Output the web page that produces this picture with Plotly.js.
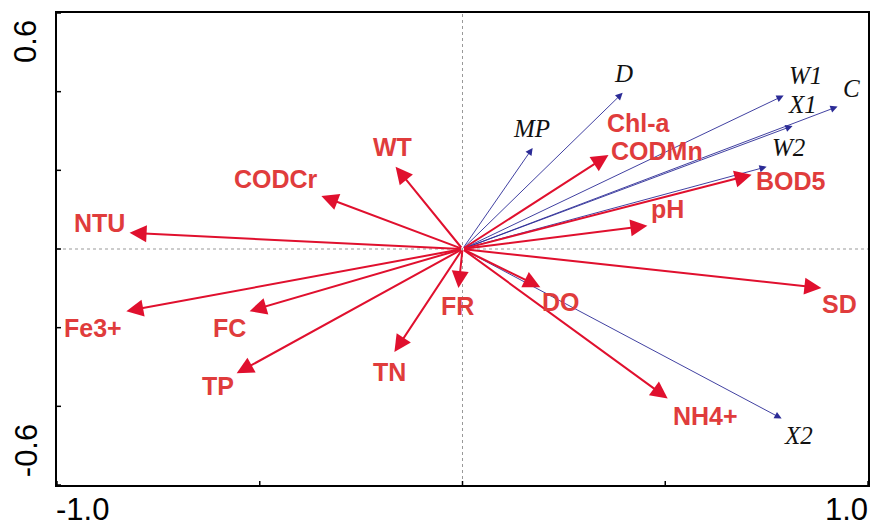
<!DOCTYPE html>
<html>
<head>
<meta charset="utf-8">
<script src="https://cdn.plot.ly/plotly-3.0.1.min.js"></script>
<style>html,body{margin:0;padding:0;background:#fff}#chart{width:872px;height:528px}</style>
</head>
<body>
<div id="chart"></div>
<script>
// Environmental variables (red arrows)
var envNames = ["NTU","Fe3+","FC","TP","CODCr","WT","TN","FR","DO","NH4+","SD","pH","BOD5","Chl-a / CODMn"];
var envX = [-0.821,-0.829,-0.525,-0.557,-0.348,-0.165,-0.168,-0.010,0.192,0.506,0.885,0.456,0.713,0.360];
var envY = [0.041,-0.158,-0.158,-0.316,0.135,0.209,-0.262,-0.099,-0.097,-0.380,-0.099,0.059,0.189,0.239];

// Species / response variables (blue arrows)
var spNames = ["D","MP","W1","C","X1","W2","X2"];
var spX = [0.395,0.173,0.792,0.925,0.814,0.750,0.787];
var spY = [0.397,0.257,0.390,0.362,0.313,0.209,-0.431];

// Axis tick labels
var xTickVals = [-1.0,-0.5,0,0.5,1.0];
var yTickVals = [-0.6,-0.4,-0.2,0,0.2,0.4,0.6];
var xTickText = ["-1.0","1.0"];
var yTickText = ["0.6","-0.6"];

// Label placement (layout only)
var envLabelPos = [
  {t:"NTU",x:-0.895,y:0.065},{t:"Fe3+",x:-0.912,y:-0.200},{t:"FC",x:-0.575,y:-0.200},
  {t:"TP",x:-0.604,y:-0.348},{t:"CODCr",x:-0.461,y:0.177},{t:"WT",x:-0.173,y:0.259},
  {t:"TN",x:-0.180,y:-0.312},{t:"FR",x:-0.012,y:-0.146},{t:"DO",x:0.242,y:-0.136},
  {t:"NH4+",x:0.599,y:-0.424},{t:"SD",x:0.930,y:-0.141},{t:"pH",x:0.506,y:0.101},
  {t:"BOD5",x:0.811,y:0.172},{t:"Chl-a",x:0.436,y:0.320},{t:"CODMn",x:0.480,y:0.248}
];
var spLabelPos = [
  {t:"D",x:0.397,y:0.445},{t:"MP",x:0.170,y:0.307},{t:"W1",x:0.846,y:0.442},
  {t:"C",x:0.959,y:0.409},{t:"X1",x:0.838,y:0.368},{t:"W2",x:0.804,y:0.259},
  {t:"X2",x:0.829,y:-0.475}
];

var ann = [];
spX.forEach(function(x,i){
  ann.push({x:x,y:spY[i],ax:0,ay:0,xref:'x',yref:'y',axref:'x',ayref:'y',text:'',
    showarrow:true,arrowhead:2,arrowsize:1.6,arrowwidth:0.9,arrowcolor:'#2b2b96',standoff:0,startstandoff:0});
});
envX.forEach(function(x,i){
  ann.push({x:x,y:envY[i],ax:0,ay:0,xref:'x',yref:'y',axref:'x',ayref:'y',text:'',
    showarrow:true,arrowhead:2,arrowsize:1.7,arrowwidth:2,arrowcolor:'#e0102e',standoff:0,startstandoff:0});
});
envLabelPos.forEach(function(p){
  ann.push({x:p.x,y:p.y,xref:'x',yref:'y',xanchor:'center',yanchor:'middle',text:'<b>'+p.t+'</b>',showarrow:false,
    font:{family:'Liberation Sans, Arial, sans-serif',size:25,color:'#e03c3c'}});
});
spLabelPos.forEach(function(p){
  ann.push({x:p.x,y:p.y,xref:'x',yref:'y',xanchor:'center',yanchor:'middle',text:'<i>'+p.t+'</i>',showarrow:false,
    font:{family:'Liberation Serif, Times New Roman, serif',size:25,color:'#111'}});
});
// axis tick labels
var tf = {family:'Liberation Sans, Arial, sans-serif',size:31,color:'#000'};
function tickAnn(x,y,t,ang){
  return {xref:'paper',yref:'paper',x:x,y:y,xanchor:'center',yanchor:'middle',text:t,showarrow:false,font:tf,textangle:ang,borderpad:0};
}
ann.push(tickAnn(0.032,-0.051,xTickText[0],0));
ann.push(tickAnn(0.974,-0.051,xTickText[1],0));
ann.push(tickAnn(-0.038,0.939,yTickText[0],-90));
ann.push(tickAnn(-0.038,0.072,yTickText[1],-90));

var shapes = [
  {type:'line',xref:'x',yref:'y',x0:0,x1:0,y0:-0.6,y1:0.6,line:{color:'#999',width:1,dash:'dot'},layer:'below'},
  {type:'line',xref:'x',yref:'y',x0:-1,x1:1,y0:0,y1:0,line:{color:'#999',width:1,dash:'dot'},layer:'below'}
];
xTickVals.forEach(function(v){
  shapes.push({type:'line',xref:'x',yref:'y',ysizemode:'pixel',yanchor:-0.6,y0:-4,y1:4,x0:v,x1:v,line:{color:'#000',width:1.5}});
});
yTickVals.forEach(function(v){
  shapes.push({type:'line',yref:'y',xref:'x',xsizemode:'pixel',xanchor:-1,x0:-4,x1:4,y0:v,y1:v,line:{color:'#000',width:1.5}});
});

var layout = {
  width:872,height:528,
  margin:{l:57,r:4,t:13,b:43},
  paper_bgcolor:'#fff',plot_bgcolor:'#fff',
  showlegend:false,
  xaxis:{range:[-1,1],showgrid:false,zeroline:false,showticklabels:false,ticks:'',
    showline:true,mirror:true,linecolor:'#000',linewidth:2,fixedrange:true},
  yaxis:{range:[-0.6,0.6],showgrid:false,zeroline:false,showticklabels:false,ticks:'',
    showline:true,mirror:true,linecolor:'#000',linewidth:2,fixedrange:true},
  annotations:ann,
  shapes:shapes
};
Plotly.newPlot('chart',[{x:[],y:[],type:'scatter',mode:'markers'}],layout,{staticPlot:true});
</script>
</body>
</html>
